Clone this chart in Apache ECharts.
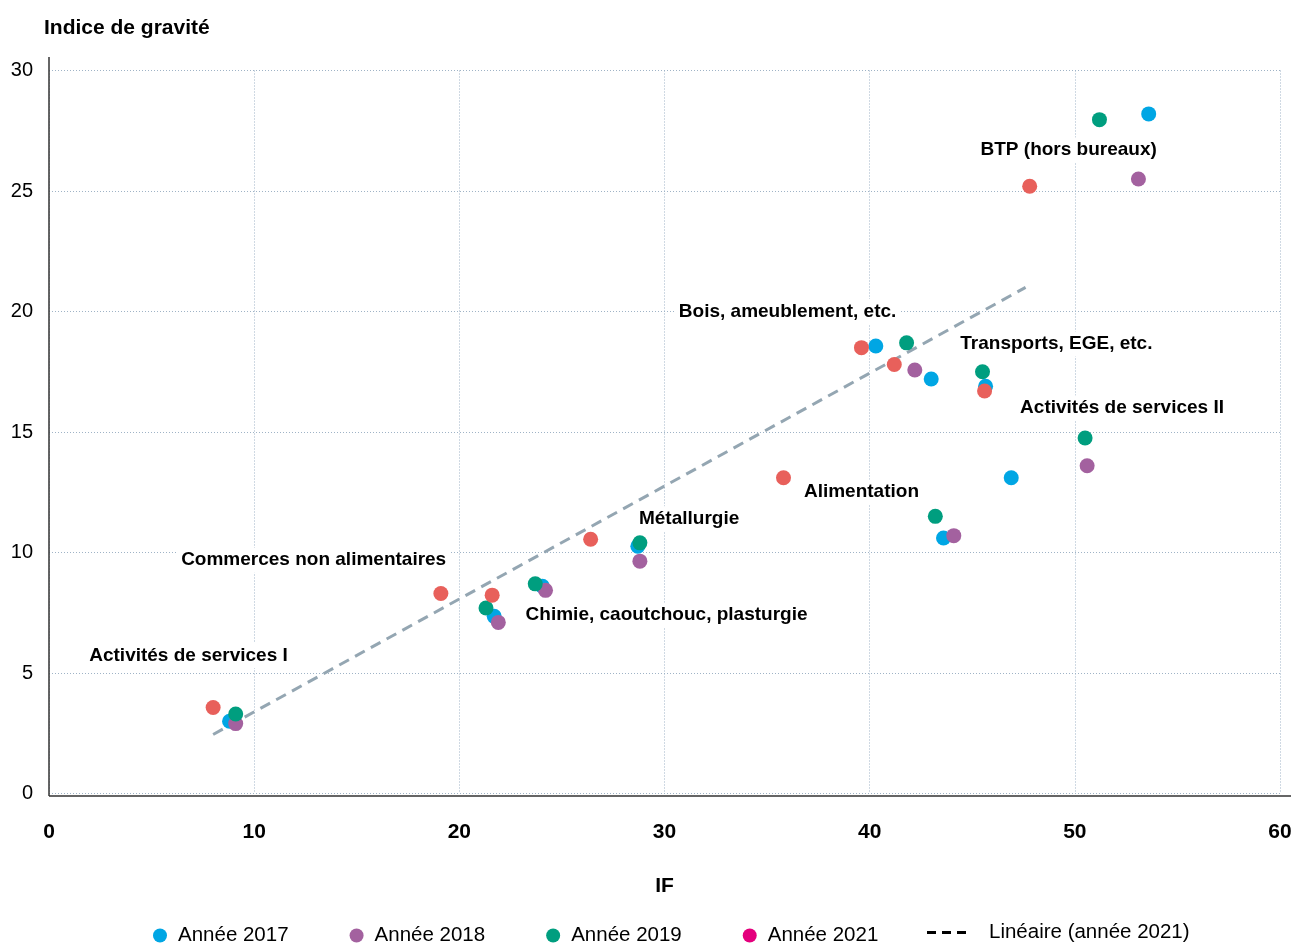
<!DOCTYPE html>
<html>
<head>
<meta charset="utf-8">
<script src="https://cdn.jsdelivr.net/npm/echarts@6/dist/echarts.min.js"></script>
<style>
html,body{margin:0;padding:0;background:#fff;}
#chart{width:1306px;height:944px;}
</style>
</head>
<body>
<div id="chart"></div>
<script>
// ---- Data ----
const xTicks = [0, 10, 20, 30, 40, 50, 60];
const yTicks = [0, 5, 10, 15, 20, 25, 30];

const x2017 = [8.8, 21.7, 24.05, 28.7, 40.3, 43.0, 45.65, 43.6, 46.9, 53.6];
const y2017 = [3.0, 7.35, 8.6, 10.26, 18.57, 17.2, 16.9, 10.6, 13.1, 28.2];

const x2018 = [9.1, 21.9, 24.2, 28.8, 42.2, 44.1, 50.6, 53.1];
const y2018 = [2.9, 7.1, 8.43, 9.64, 17.57, 10.7, 13.6, 25.5];

const x2019 = [9.1, 21.3, 23.7, 28.8, 41.8, 45.5, 43.2, 50.5, 51.2];
const y2019 = [3.3, 7.7, 8.7, 10.4, 18.7, 17.5, 11.5, 14.75, 27.96];

const x2021 = [8.0, 19.1, 21.6, 26.4, 35.8, 39.6, 41.2, 45.6, 47.8];
const y2021 = [3.57, 8.3, 8.23, 10.55, 13.1, 18.5, 17.8, 16.7, 25.2];

const trendX = [8.0, 47.6];
const trendY = [2.45, 21.0];

const labelNames = ['Activités de services I', 'Commerces non alimentaires', 'Chimie, caoutchouc, plasturgie',
  'Métallurgie', 'Alimentation', 'Bois, ameublement, etc.', 'Transports, EGE, etc.',
  'Activités de services II', 'BTP (hors bureaux)'];
const labelX = [6.8, 12.9, 30.1, 31.2, 39.6, 36.0, 49.1, 52.3, 49.7];
const labelY = [5.73, 9.68, 7.4, 11.4, 12.5, 20.0, 18.65, 16.0, 26.7];

const seriesNames = ['Année 2017', 'Année 2018', 'Année 2019', 'Année 2021'];
const trendName = 'Linéaire (année 2021)';
const xTitle = 'IF';
const yTitle = 'Indice de gravité';

// ---- Build ----
const FONT = '"Liberation Sans", Arial, sans-serif';
const zip = (xs, ys) => xs.map((x, i) => [x, ys[i]]);
const colors = ['#00a6e4', '#a3619f', '#009e7f', '#e8605b'];

const chart = echarts.init(document.getElementById('chart'), null, {renderer: 'canvas'});

const pointSeries = [[x2017, y2017], [x2018, y2018], [x2019, y2019], [x2021, y2021]].map((d, i) => ({
  name: seriesNames[i],
  type: 'scatter',
  data: zip(d[0], d[1]),
  symbol: 'circle',
  symbolSize: 15,
  itemStyle: {color: colors[i], opacity: 1},
  z: 3 + i
}));

const option = {
  animation: false,
  backgroundColor: '#ffffff',
  title: {
    text: yTitle, left: 39, top: 13,
    textStyle: {fontFamily: FONT, fontWeight: 'bold', fontSize: 21, color: '#000'}
  },
  grid: {left: 49, right: 26, top: 70.5, bottom: 150.5, containLabel: false},
  xAxis: {
    type: 'value', min: 0, max: 60, interval: 10,
    name: xTitle, nameLocation: 'middle', nameGap: 82,
    nameTextStyle: {fontFamily: FONT, fontWeight: 'bold', fontSize: 21, color: '#000'},
    axisLine: {show: false}, axisTick: {show: false},
    axisLabel: {
      fontFamily: FONT, fontWeight: 'bold', fontSize: 21, color: '#000', margin: 28,
      formatter: v => xTicks.includes(v) ? String(v) : ''
    },
    splitLine: {show: true, lineStyle: {color: '#9fb3c6', width: 1, type: [1, 2]}}
  },
  yAxis: {
    type: 'value', min: 0, max: 30, interval: 5,
    axisLine: {show: false}, axisTick: {show: false},
    axisLabel: {
      fontFamily: FONT, fontSize: 20, color: '#000', margin: 16,
      formatter: v => yTicks.includes(v) ? String(v) : ''
    },
    splitLine: {show: true, lineStyle: {color: '#9fb3c6', width: 1, type: [1, 2]}}
  },
  legend: [{
    data: seriesNames.map((n, i) => ({
      name: n,
      icon: 'circle',
      itemStyle: i === 3 ? {color: '#e4007d'} : undefined
    })),
    left: 148, top: 920,
    itemWidth: 14, itemHeight: 14, itemGap: 61,
    textStyle: {fontFamily: FONT, fontSize: 20.5, color: '#000', padding: [0, 0, 0, 6]}
  }, {
    data: [{
      name: trendName,
      icon: 'path://M0,0h9v3h-9zM15,0h9v3h-9zM30,0h9v3h-9z',
      itemStyle: {color: '#000', borderWidth: 0},
      lineStyle: {width: 0}
    }],
    left: 922, top: 917,
    itemWidth: 39, itemHeight: 3,
    textStyle: {fontFamily: FONT, fontSize: 20.5, color: '#000', padding: [0, 0, 32, 18]}
  }],
  graphic: [
    {type: 'rect', shape: {x: 50, y: 68, width: 1240, height: 5}, style: {fill: '#ffffff'}, z: 0, silent: true},
    {type: 'line', shape: {x1: 49, y1: 57, x2: 49, y2: 796}, style: {stroke: '#333', lineWidth: 1.5}, z: 10},
    {type: 'line', shape: {x1: 49, y1: 796, x2: 1291, y2: 796}, style: {stroke: '#333', lineWidth: 1.5}, z: 10}
  ],
  series: [
    {
      name: trendName,
      type: 'line',
      data: zip(trendX, trendY),
      symbol: 'none',
      lineStyle: {color: '#94a6b2', width: 3, type: [11, 7]},
      z: 2,
      silent: true
    },
    ...pointSeries,
    {
      name: 'labels',
      type: 'scatter',
      data: labelNames.map((n, i) => ({name: n, value: [labelX[i], labelY[i]]})),
      symbolSize: 0,
      silent: true,
      z: 1,
      itemStyle: {opacity: 1},
      label: {
        show: true, position: 'inside',
        formatter: p => p.name,
        fontFamily: FONT, fontWeight: 'bold', fontSize: 19, color: '#000',
        backgroundColor: '#ffffff', padding: [3, 4]
      }
    }
  ]
};
chart.setOption(option);
</script>
</body>
</html>
